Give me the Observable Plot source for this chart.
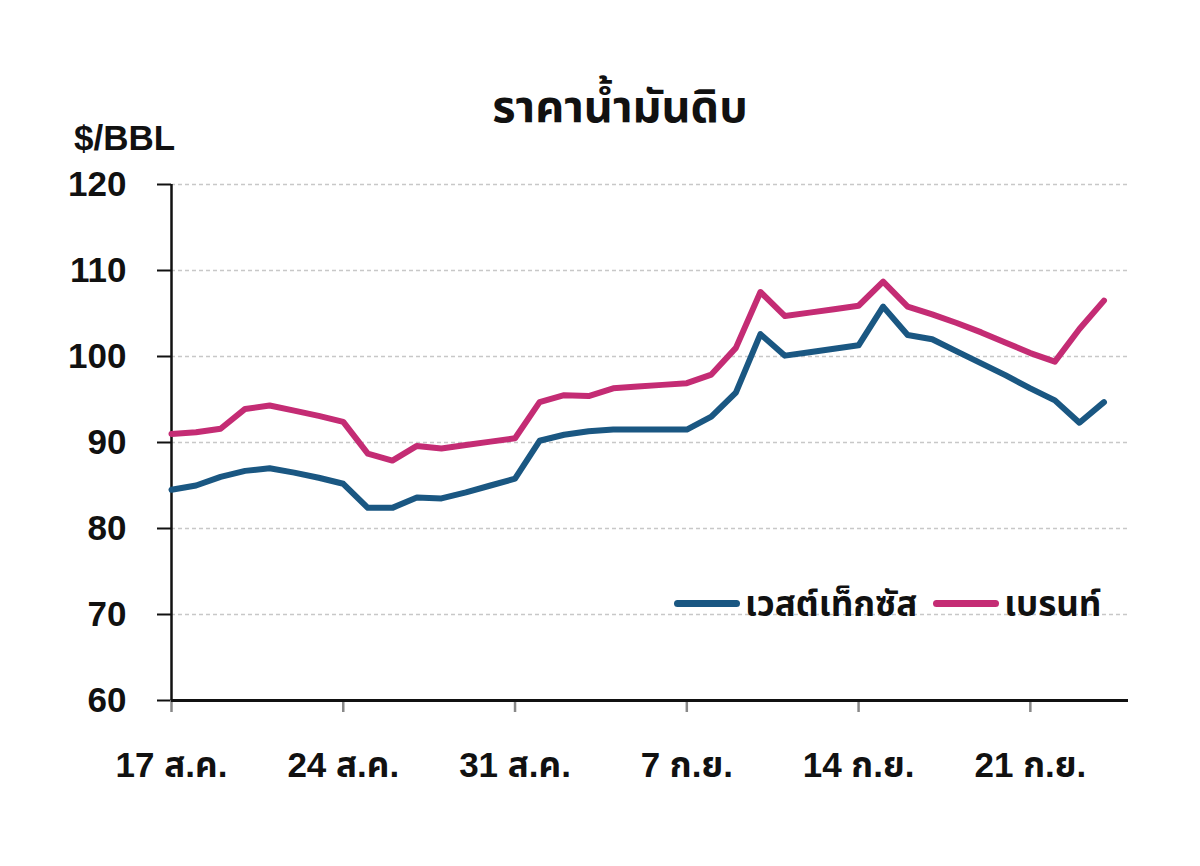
<!DOCTYPE html>
<html>
<head>
<meta charset="utf-8">
<script src="https://cdn.jsdelivr.net/npm/d3@7"></script>
<script src="https://cdn.jsdelivr.net/npm/@observablehq/plot@0.6"></script>
<style>
  html, body { margin: 0; padding: 0; background: #fff; }
  body { font-family: "Liberation Sans", Arial, "Noto Sans Thai", "Noto Sans", sans-serif; }
  #wrap { position: relative; width: 1200px; height: 866px; overflow: hidden; }
  #header { position: relative; width: 1200px; height: 150px; }
  #title { position: absolute; left: 0; width: 1240px; top: 84px; text-align: center; font-size: 45px; font-weight: bold; color: #111; line-height: 1; }
  #unit { position: absolute; left: 74px; top: 120px; font-size: 35px; font-weight: bold; color: #111; line-height: 1; }
  #legend { position: absolute; top: 586px; left: 674px; display: flex; align-items: center; font-size: 35px; font-weight: bold; color: #111; line-height: 1; }
  .sw { display: inline-block; width: 66px; height: 7px; border-radius: 4px; margin-right: 5px; }
  .item { display: flex; align-items: center; margin-right: 16px; }
</style>
</head>
<body>
<div id="wrap">
  <div id="header">
    <div id="title">ราคาน้ำมันดิบ</div>
    <div id="unit">$/BBL</div>
  </div>
  <div id="chart"></div>
  <div id="legend"></div>
</div>
<script>
const dates = [
  "2012-08-17","2012-08-18","2012-08-19","2012-08-20","2012-08-21","2012-08-22","2012-08-23",
  "2012-08-24","2012-08-25","2012-08-26","2012-08-27","2012-08-28","2012-08-29","2012-08-30",
  "2012-08-31","2012-09-01","2012-09-02","2012-09-03","2012-09-04","2012-09-05","2012-09-06",
  "2012-09-07","2012-09-08","2012-09-09","2012-09-10","2012-09-11","2012-09-12","2012-09-13",
  "2012-09-14","2012-09-15","2012-09-16","2012-09-17","2012-09-18","2012-09-19","2012-09-20",
  "2012-09-21","2012-09-22","2012-09-23","2012-09-24"
];
const wti = [
  84.5, 85.0, 86.0, 86.7, 87.0, 86.5, 85.9, 85.2, 82.4, 82.4, 83.6, 83.5, 84.2, 85.0, 85.8,
  90.2, 90.9, 91.3, 91.5, 91.5, 91.5, 91.5, 93.0, 95.8, 102.6, 100.1, 100.5, 100.9, 101.3,
  105.8, 102.5, 102.0, 100.6, 99.2, 97.8, 96.3, 94.9, 92.3, 94.7
];
const brent = [
  91.0, 91.2, 91.6, 93.9, 94.3, 93.7, 93.1, 92.4, 88.7, 87.9, 89.6, 89.3, 89.7, 90.1, 90.5,
  94.7, 95.5, 95.4, 96.3, 96.5, 96.7, 96.9, 97.9, 101.0, 107.5, 104.7, 105.1, 105.5, 105.9,
  108.7, 105.8, 104.9, 103.9, 102.8, 101.6, 100.4, 99.4, 103.2, 106.5
];
const seriesNames = ["เวสต์เท็กซัส", "เบรนท์"];
const seriesColors = ["#1a5782", "#c42c74"];
const xTickDates = ["2012-08-17","2012-08-24","2012-08-31","2012-09-07","2012-09-14","2012-09-21"];
const xTickLabels = ["17 ส.ค.", "24 ส.ค.", "31 ส.ค.", "7 ก.ย.", "14 ก.ย.", "21 ก.ย."];
const yTicks = [60, 70, 80, 90, 100, 110, 120];
const xDomain = ["2012-08-17", "2012-09-25"];

const parse = d3.utcParse("%Y-%m-%d");
const rows = [];
dates.forEach((d, i) => {
  rows.push({date: parse(d), value: wti[i], series: seriesNames[0]});
  rows.push({date: parse(d), value: brent[i], series: seriesNames[1]});
});
const tickDates = xTickDates.map(parse);
const labelFor = (d) => {
  const i = tickDates.findIndex(t => +t === +d);
  return i >= 0 ? xTickLabels[i] : "";
};

const chart = Plot.plot({
  width: 1200,
  height: 716,
  marginLeft: 171,
  marginRight: 72,
  marginTop: 34,
  marginBottom: 166,
  style: {fontFamily: '"Liberation Sans", Arial, "Noto Sans Thai", "Noto Sans", sans-serif', fontSize: "35px", fontWeight: "bold", color: "#111", background: "#fff"},
  x: {type: "utc", domain: xDomain.map(parse)},
  y: {domain: [60, 120]},
  color: {domain: seriesNames, range: seriesColors},
  marks: [
    Plot.ruleY(yTicks.filter(v => v > 60), {stroke: "#c8c8c8", strokeWidth: 1.5, strokeDasharray: "4,3"}),
    Plot.axisY({ticks: yTicks, tickSize: 14, tickPadding: 31, label: null, stroke: "#111", strokeWidth: 2, tickFormat: d => String(d)}),
    Plot.axisX({ticks: tickDates, tickSize: 12, tickPadding: 40, label: null, stroke: "#888", strokeWidth: 2.5, tickFormat: labelFor}),
    Plot.ruleX([parse(xDomain[0])], {stroke: "#111", strokeWidth: 2.5}),
    Plot.ruleY([60], {stroke: "#111", strokeWidth: 3}),
    Plot.line(rows, {x: "date", y: "value", stroke: "series", z: "series", strokeWidth: 6, strokeLinejoin: "round", strokeLinecap: "round"})
  ]
});
document.getElementById("chart").appendChild(chart);

const legend = document.getElementById("legend");
seriesNames.forEach((name, i) => {
  const item = document.createElement("div");
  item.className = "item";
  const sw = document.createElement("span");
  sw.className = "sw";
  sw.style.background = seriesColors[i];
  const lab = document.createElement("span");
  lab.textContent = name;
  item.appendChild(sw);
  item.appendChild(lab);
  legend.appendChild(item);
});
</script>
</body>
</html>
